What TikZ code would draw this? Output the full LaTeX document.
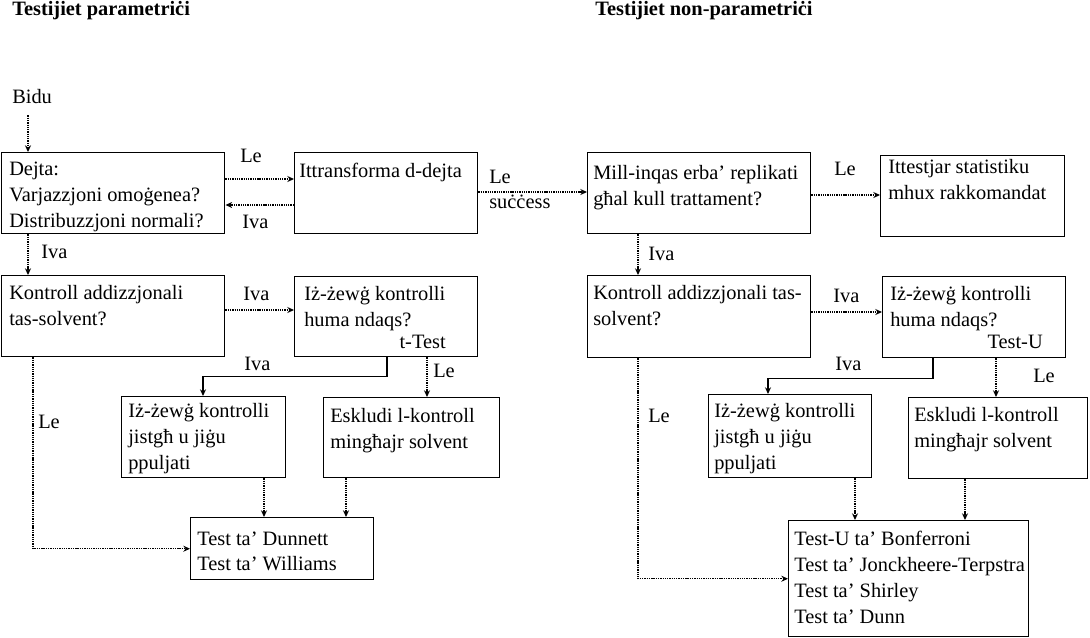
\documentclass[tikz,border=0pt]{standalone}
\usepackage{fontspec}
\setmainfont{Liberation Serif}
\usetikzlibrary{arrows.meta,calc}
\begin{document}
\begin{tikzpicture}[x=0.75pt,y=-0.75pt,
  bx/.style={draw,line width=1.1pt,anchor=north west,inner sep=0pt},
  txt/.style={anchor=north west,inner sep=0pt,align=left,font=\fontsize{15.3}{19.5}\selectfont},
  lbl/.style={anchor=base west,inner sep=0pt,font=\fontsize{15.3}{19.5}\selectfont},
  ttl/.style={anchor=base west,inner sep=0pt,font=\fontsize{15.3}{19.5}\selectfont\bfseries},
  arr/.style={line width=0.9pt,dash pattern=on 1pt off 0.7pt,-{Stealth[length=5pt,width=4.5pt]}},
  arrs/.style={line width=0.9pt,-{Stealth[length=5pt,width=4.5pt]}}]
\useasboundingbox (0,0) rectangle (1090,637);

% titles
\node[ttl] (h1) at (12,15) {Testijiet parametriċi};
\node[ttl] (h2) at (595,15) {Testijiet non-parametriċi};
\node[lbl] (bidu) at (12,103) {Bidu};

% boxes
\node[bx,minimum width=223*0.75pt,minimum height=81*0.75pt] (b1) at (1,152) {};
\node[bx,minimum width=183*0.75pt,minimum height=81*0.75pt] (b2) at (294,152) {};
\node[bx,minimum width=223*0.75pt,minimum height=81*0.75pt] (b3) at (587,152) {};
\node[bx,minimum width=184*0.75pt,minimum height=81*0.75pt] (b4) at (880,155) {};
\node[bx,minimum width=223*0.75pt,minimum height=81*0.75pt] (b5) at (1,275) {};
\node[bx,minimum width=183*0.75pt,minimum height=80*0.75pt] (b6) at (294,276) {};
\node[bx,minimum width=223*0.75pt,minimum height=82*0.75pt] (b10) at (587,275) {};
\node[bx,minimum width=183*0.75pt,minimum height=81*0.75pt] (b11) at (882,276) {};
\node[bx,minimum width=164*0.75pt,minimum height=81*0.75pt] (b7) at (121,396) {};
\node[bx,minimum width=176*0.75pt,minimum height=80*0.75pt] (b8) at (323,397) {};
\node[bx,minimum width=163*0.75pt,minimum height=83*0.75pt] (b12) at (708,394) {};
\node[bx,minimum width=179*0.75pt,minimum height=81*0.75pt] (b13) at (908,397) {};
\node[bx,minimum width=183*0.75pt,minimum height=62*0.75pt] (b9) at (190,517) {};
\node[bx,minimum width=240*0.75pt,minimum height=116*0.75pt] (b14) at (788,520) {};

% box texts (top = first baseline - 18.2)
\node[txt] (t1) at (9,157) {\strut Dejta:\\Varjazzjoni omoġenea?\\Distribuzzjoni normali?};
\node[txt] (t2) at (299,159) {\strut Ittransforma d-dejta};
\node[txt] (t3) at (593,161) {\strut Mill-inqas erba’ replikati\\għal kull trattament?};
\node[txt] (t4) at (888,155) {\strut Ittestjar statistiku\\mhux rakkomandat};
\node[txt] (t5) at (9,281) {\strut Kontroll addizzjonali\\tas-solvent?};
\node[txt] (t6) at (304,282) {\strut Iż-żewġ kontrolli\\huma ndaqs?};
\node[lbl,anchor=base east] (t6b) at (446,348) {t-Test};
\node[txt] (t10) at (593,281) {\strut Kontroll addizzjonali tas-\\solvent?};
\node[txt] (t11) at (890,282) {\strut Iż-żewġ kontrolli\\huma ndaqs?};
\node[lbl,anchor=base east] (t11b) at (1043,348) {Test-U};
\node[txt] (t7) at (128,399) {\strut Iż-żewġ kontrolli\\jistgħ u jiġu\\ppuljati};
\node[txt] (t8) at (330,404) {\strut Eskludi l-kontroll\\mingħajr solvent};
\node[txt] (t12) at (714,399) {\strut Iż-żewġ kontrolli\\jistgħ u jiġu\\ppuljati};
\node[txt] (t13) at (914,403) {\strut Eskludi l-kontroll\\mingħajr solvent};
\node[txt,font=\fontsize{15.3}{18.5}\selectfont] (t9) at (197,528) {\strut Test ta’ Dunnett\\Test ta’ Williams};
\node[txt] (t14) at (794,527) {\strut Test-U ta’ Bonferroni\\Test ta’ Jonckheere-Terpstra\\Test ta’ Shirley\\Test ta’ Dunn};

% labels
\node[lbl] (l1) at (240,162) {Le};
\node[lbl] (l2) at (242,228) {Iva};
\node[lbl] (l3) at (489,183) {Le};
\node[lbl] (l4) at (489,208) {suċċess};
\node[lbl] (l5) at (834,175) {Le};
\node[lbl] (l6) at (41,258) {Iva};
\node[lbl] (l7) at (243,300) {Iva};
\node[lbl] (l8) at (244,370) {Iva};
\node[lbl] (l9) at (433,377) {Le};
\node[lbl] (l10) at (38,428) {Le};
\node[lbl] (l11) at (648,260) {Iva};
\node[lbl] (l12) at (833,302) {Iva};
\node[lbl] (l13) at (835,370) {Iva};
\node[lbl] (l14) at (1033,382) {Le};
\node[lbl] (l15) at (648,422) {Le};

% connectors
\draw[arr] ($(bidu.south west)+(16,12)$) coordinate (p0) -- (p0 |- b1.north);
\draw[arr] ($(b1.north east)+(0,27)$) coordinate (p1) -- (p1 -| b2.west);
\draw[arr] ($(b2.north west)+(0,53)$) coordinate (p2) -- (p2 -| b1.east);
\draw[arr] ($(b2.north east)+(0,40)$) coordinate (p3) -- (p3 -| b3.west);
\draw[arr] ($(b3.north east)+(0,43)$) coordinate (p4) -- (p4 -| b4.west);
\draw[arr] ($(b1.south west)+(27,0)$) coordinate (p5) -- (p5 |- b5.north);
\draw[arr] ($(b5.north east)+(0,35)$) coordinate (p6) -- (p6 -| b6.west);
\draw[arrs] ($(b6.south west)+(93,0)$) -- ++(0,19) -| ($(b7.north west)+(82,0)$);
\draw[arr] ($(b6.south west)+(133,0)$) coordinate (p7) -- (p7 |- b8.north);
\draw[arr] ($(b7.south west)+(143,0)$) coordinate (p8) -- (p8 |- b9.north);
\draw[arr] ($(b8.south west)+(23,0)$) coordinate (p9) -- (p9 |- b9.north);
\draw[arr] ($(b5.south west)+(32,0)$) |- (b9.west);
\draw[arr] ($(b3.south west)+(51,0)$) coordinate (q1) -- (q1 |- b10.north);
\draw[arr] ($(b10.north east)+(0,37)$) coordinate (q2) -- (q2 -| b11.west);
\draw[arrs] ($(b11.south west)+(51,0)$) -- ++(0,20) -| ($(b12.north west)+(60,0)$);
\draw[arr] ($(b11.south west)+(114,0)$) coordinate (q3) -- (q3 |- b13.north);
\draw[arr] ($(b12.south west)+(147,0)$) coordinate (q4) -- (q4 |- b14.north);
\draw[arr] ($(b13.south west)+(57,0)$) coordinate (q5) -- (q5 |- b14.north);
\draw[arr] ($(b10.south west)+(51,0)$) |- (b14.west);
\end{tikzpicture}
\end{document}
